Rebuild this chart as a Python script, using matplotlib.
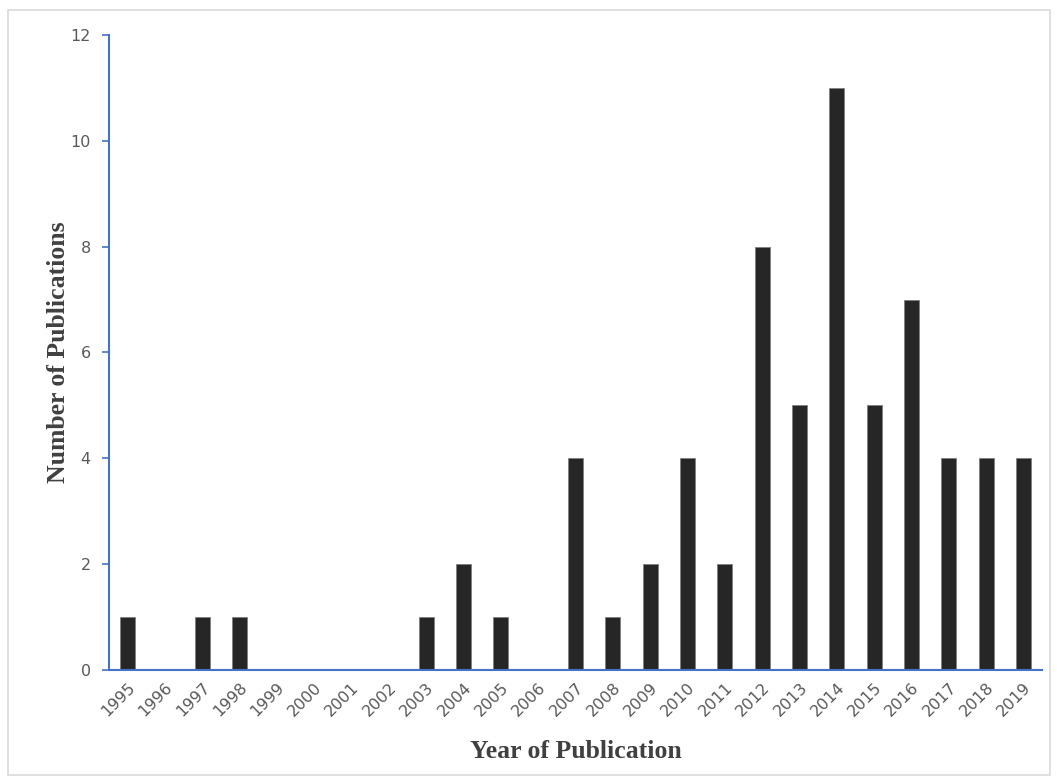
import matplotlib.pyplot as plt
from matplotlib.patches import Rectangle

# Publications per year
years = [str(y) for y in range(1995, 2020)]
counts = [1, 0, 1, 1, 0, 0, 0, 0, 1, 2, 1, 0, 4, 1, 2, 4, 2, 8, 5, 11, 5, 7, 4, 4, 4]

axis_blue = "#4472C4"
tick_grey = "#595959"

fig = plt.figure(figsize=(10.57, 7.84), dpi=100)
ax = fig.add_axes([0.103, 0.1454, 0.883, 0.81])

# light frame round the whole chart
fig.patches.append(Rectangle((0.008, 0.012), 0.985, 0.975, transform=fig.transFigure,
                             fill=False, edgecolor="#d9d9d9", linewidth=1.2))

x = range(len(years))
ax.bar(x, counts, width=0.4, color="#262626", edgecolor="#7f7f7f", linewidth=0.6)

ax.set_xlim(-0.5, len(years) - 0.5)
ax.set_ylim(0, 12)
ax.set_yticks(range(0, 13, 2))
ax.set_xticks(list(x))
ax.set_xticklabels(years, rotation=45, ha="right", rotation_mode="anchor")

for s in ["top", "right"]:
    ax.spines[s].set_visible(False)
for s in ["left", "bottom"]:
    ax.spines[s].set_color(axis_blue)
    ax.spines[s].set_linewidth(1.5)

ax.tick_params(axis="y", colors=axis_blue, labelcolor=tick_grey, labelsize=11.5,
               length=5, width=1.2, pad=8)
ax.tick_params(axis="x", length=0, labelcolor=tick_grey, labelsize=11.5, pad=7)

ax.set_xlabel("Year of Publication", family="Liberation Serif", fontweight="bold",
              fontsize=18.5, color="#404040", labelpad=15)
ax.set_ylabel("Number of Publications", family="Liberation Serif", fontweight="bold",
              fontsize=18.5, color="#404040", labelpad=0)

fig.savefig("out.png", dpi=100)
